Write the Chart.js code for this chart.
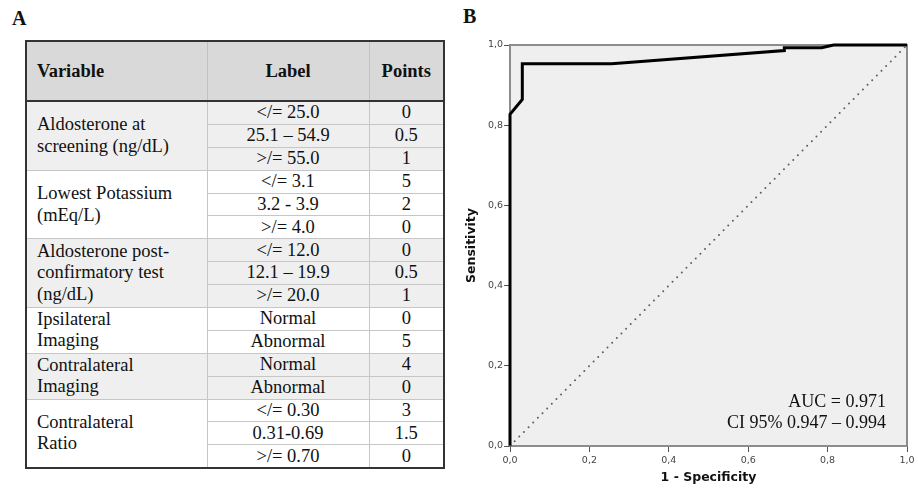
<!DOCTYPE html>
<html>
<head>
<meta charset="utf-8">
<script src="https://cdn.jsdelivr.net/npm/chart.js@4.4.1/dist/chart.umd.min.js"></script>
<style>
  body { margin:0; width:918px; height:491px; background:#fff; position:relative; overflow:hidden;
         font-family:"Liberation Serif", "Times New Roman", serif; color:#111; }
  .letra { position:absolute; font-weight:bold; font-size:20px; }
  #tabla { position:absolute; left:25px; top:40px; width:418px; border-collapse:collapse; table-layout:fixed;
           font-size:18.5px; border:2px solid #333; }
  #tabla th { height:56px; background:#d9d9d9; font-weight:bold; border:1.5px solid #c2c2c2; border-bottom:2px solid #333; }
  #tabla td { height:21.9px; padding:0; line-height:21.4px; text-align:center; border:1.5px solid #c6c6c6; white-space:nowrap; }
  #tabla td.var { text-align:left; padding-left:10px; vertical-align:middle; }
  #tabla th.var { text-align:left; padding-left:10px; }
  #grafico { position:absolute; left:460px; top:0; width:458px; height:491px; }
</style>
</head>
<body>
<div class="letra" style="left:12px; top:7px;">A</div>
<div class="letra" style="left:463px; top:5px;">B</div>

<table id="tabla">
  <colgroup><col style="width:181px"><col style="width:162px"><col style="width:75px"></colgroup>
  <thead><tr><th class="var">Variable</th><th>Label</th><th>Points</th></tr></thead>
  <tbody id="cuerpo"></tbody>
</table>

<div id="grafico"><canvas id="rocChart"></canvas></div>

<script>
// ---- datos de la tabla ----
const variables = [
  ['Aldosterone at', 'screening (ng/dL)'],
  ['Lowest Potassium', '(mEq/L)'],
  ['Aldosterone post-', 'confirmatory test', '(ng/dL)'],
  ['Ipsilateral', 'Imaging'],
  ['Contralateral', 'Imaging'],
  ['Contralateral', 'Ratio']
];
const etiquetas = [
  ['</= 25.0', '25.1 – 54.9', '>/= 55.0'],
  ['</= 3.1', '3.2 - 3.9', '>/= 4.0'],
  ['</= 12.0', '12.1 – 19.9', '>/= 20.0'],
  ['Normal', 'Abnormal'],
  ['Normal', 'Abnormal'],
  ['</= 0.30', '0.31-0.69', '>/= 0.70']
];
const puntos = [
  ['0', '0.5', '1'],
  ['5', '2', '0'],
  ['0', '0.5', '1'],
  ['0', '5'],
  ['4', '0'],
  ['3', '1.5', '0']
];

// ---- datos de la curva ROC ----
const rocFpr = [0, 0, 0.031, 0.031, 0.256, 0.691, 0.691, 0.785, 0.815, 1];
const rocTpr = [0, 0.827, 0.864, 0.953, 0.953, 0.986, 0.993, 0.993, 1, 1];
const refFpr = [0, 1];
const refTpr = [0, 1];
const tickValores = [0, 0.2, 0.4, 0.6, 0.8, 1.0];
const tickTextos = ['0,0', '0,2', '0,4', '0,6', '0,8', '1,0'];
const textoAuc = ['AUC = 0.971', 'CI 95% 0.947 – 0.994'];

// armar la tabla
let cuerpo = document.getElementById('cuerpo');
variables.forEach((lineas, g) => {
  let fondo = (g % 2 === 0) ? '#efefef' : '#ffffff';
  etiquetas[g].forEach((et, i) => {
    let tr = document.createElement('tr');
    tr.style.background = fondo;
    if (i === 0) {
      let td = document.createElement('td');
      td.className = 'var';
      td.rowSpan = etiquetas[g].length;
      td.innerHTML = lineas.join('<br>');
      tr.appendChild(td);
    }
    let tdE = document.createElement('td');
    tdE.textContent = et;
    tr.appendChild(tdE);
    let tdP = document.createElement('td');
    tdP.textContent = puntos[g][i];
    tr.appendChild(tdP);
    cuerpo.appendChild(tr);
  });
});

// fondo gris, marco y texto del AUC
const marco = {
  id: 'marco',
  beforeDatasetsDraw(chart) {
    const { ctx, chartArea: a } = chart;
    ctx.save();
    ctx.fillStyle = '#efefef';
    ctx.fillRect(a.left, a.top, a.width, a.height);
    ctx.strokeStyle = '#8c8c8c';
    ctx.lineWidth = 2;
    ctx.strokeRect(a.left, a.top, a.width, a.height);
    ctx.restore();
  },
  afterDatasetsDraw(chart) {
    const { ctx, scales } = chart;
    ctx.save();
    ctx.font = '18px "Liberation Serif"';
    ctx.fillStyle = '#111';
    ctx.textAlign = 'right';
    ctx.textBaseline = 'alphabetic';
    let x = scales.x.getPixelForValue(0.947);
    ctx.fillText(textoAuc[0], x, scales.y.getPixelForValue(0.097));
    ctx.fillText(textoAuc[1], x, scales.y.getPixelForValue(0.045));
    ctx.restore();
  }
};

const ejeFuente = { family: 'DejaVu Sans', size: 9.5 };
const tituloFuente = { family: 'DejaVu Sans', size: 12.5, weight: 'bold' };

new Chart(document.getElementById('rocChart').getContext('2d'), {
  type: 'line',
  data: {
    datasets: [
      {
        label: 'Referencia',
        data: refFpr.map((x, i) => ({ x: x, y: refTpr[i] })),
        borderColor: '#5e5e5e',
        borderWidth: 2,
        borderDash: [0, 6.6],
        borderCapStyle: 'round',
        pointRadius: 0,
        clip: 4
      },
      {
        label: 'ROC',
        data: rocFpr.map((x, i) => ({ x: x, y: rocTpr[i] })),
        borderColor: '#000',
        borderWidth: 3,
        tension: 0,
        pointRadius: 0,
        clip: 4
      }
    ]
  },
  options: {
    responsive: true,
    maintainAspectRatio: false,
    animation: false,
    layout: { padding: { top: 45, right: 11, left: 0, bottom: 0 } },
    plugins: { legend: { display: false }, tooltip: { enabled: false } },
    scales: {
      x: {
        type: 'linear', min: 0, max: 1,
        afterBuildTicks: s => { s.ticks = tickValores.map(v => ({ value: v })); },
        afterFit: s => { s.height = 45; },
        ticks: { font: ejeFuente, color: '#444', padding: 3, maxRotation: 0,
                 callback: (v, i) => tickTextos[i] },
        grid: { drawOnChartArea: false, tickLength: 6, tickColor: '#555' },
        border: { display: false },
        title: { display: true, text: '1 - Specificity', font: tituloFuente, color: '#111',
                 padding: { top: 2, bottom: 6 } }
      },
      y: {
        type: 'linear', min: 0, max: 1,
        afterBuildTicks: s => { s.ticks = tickValores.map(v => ({ value: v })); },
        afterFit: s => { s.width = 50; },
        ticks: { font: ejeFuente, color: '#444', padding: 1,
                 callback: (v, i) => tickTextos[i] },
        grid: { drawOnChartArea: false, tickLength: 6, tickColor: '#555' },
        border: { display: false },
        title: { display: true, text: 'Sensitivity', font: tituloFuente, color: '#111',
                 padding: { top: 4, bottom: 0 } }
      }
    }
  },
  plugins: [marco]
});
</script>
</body>
</html>
